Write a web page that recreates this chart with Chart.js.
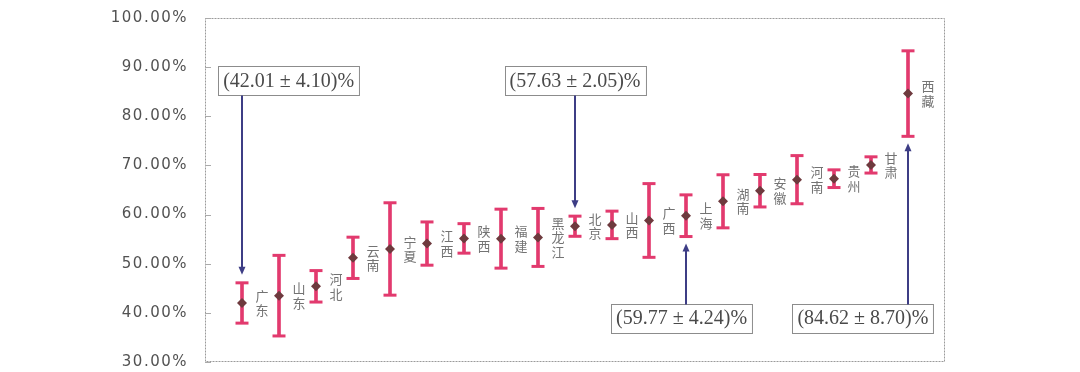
<!DOCTYPE html>
<html>
<head>
<meta charset="utf-8">
<script src="https://cdn.jsdelivr.net/npm/chart.js@4/dist/chart.umd.min.js"></script>
<style>
html,body{margin:0;padding:0;background:#fff}
#wrap{width:1080px;height:372px;position:relative}
</style>
</head>
<body>
<div id="wrap"><canvas id="chart"></canvas></div>
<script>
// provinces, left to right
var provinces = ['广东','山东','河北','云南','宁夏','江西','陕西','福建','黑龙江','北京','山西','广西','上海','湖南','安徽','河南','贵州','甘肃','西藏'];
// mean % (boxed ones are printed)
var means = [42.01, 43.5, 45.4, 51.2, 53.0, 54.1, 55.15, 55.1, 55.35, 57.63, 57.9, 58.8, 59.77, 62.7, 64.85, 67.1, 67.3, 70.1, 84.62];
// +/- spread
var sds = [4.10, 8.2, 3.2, 4.2, 9.4, 4.4, 3.0, 6.0, 5.9, 2.05, 2.8, 7.5, 4.24, 5.4, 3.3, 4.9, 1.8, 1.65, 8.70];
// y axis ticks
var yTicks = [30, 40, 50, 60, 70, 80, 90, 100];

var pink = '#e23a6e';
var brown = '#6e3a3e';
var navy = '#3d3d85';

var meanPts = means.map(function(m, i){ return {x: i, y: m}; });
var rangeBars = means.map(function(m, i){ return {x: i, y: [m - sds[i], m + sds[i]]}; });
var capPts = [];
means.forEach(function(m, i){
      capPts.push({x: i, y: m + sds[i]});
      capPts.push({x: i, y: m - sds[i]});
});

// which points get a boxed label, and where the box sits (x in index units, y in %)
var notes = [
      {i: 0,  bx: 1.26,  by: 87.3,  up: false},
      {i: 9,  bx: 9.0,   by: 87.3,  up: false},
      {i: 12, bx: 11.88, by: 38.95, up: true},
      {i: 18, bx: 16.78, by: 38.95, up: true}
];

var decor = {
      id: 'decor',
      beforeDraw: function(chart){
            chart.ctx.letterSpacing = '1.5px';
      },
      afterDraw: function(chart){
            var ctx = chart.ctx, a = chart.chartArea;
            var xs = chart.scales.x, ys = chart.scales.y;
            ctx.save();
            ctx.letterSpacing = '0px';

            // dotted frame
            ctx.strokeStyle = '#9a9a9a';
            ctx.lineWidth = 1;
            ctx.setLineDash([2, 1]);
            ctx.strokeRect(a.left + 0.5, a.top + 0.5, a.width - 1, a.height - 1);
            ctx.setLineDash([]);

            // small inner tick marks
            ctx.strokeStyle = '#aaaaaa';
            ys.ticks.forEach(function(t){
                  var py = Math.round(ys.getPixelForValue(t.value)) + 0.5;
                  ctx.beginPath();
                  ctx.moveTo(a.left, py);
                  ctx.lineTo(a.left + 6, py);
                  ctx.stroke();
            });

            // vertical province names next to each point
            var meta = chart.getDatasetMeta(0);
            ctx.font = '13px "Noto Sans CJK SC"';
            ctx.fillStyle = '#737373';
            ctx.textAlign = 'center';
            ctx.textBaseline = 'middle';
            meta.data.forEach(function(pt, i){
                  var chars = Array.from(provinces[i]);
                  chars.forEach(function(ch, k){
                        ctx.fillText(ch, pt.x + 20, pt.y + (k - (chars.length - 1) / 2) * 14.5);
                  });
            });

            // boxed values with arrows
            ctx.font = '20px "Liberation Serif"';
            notes.forEach(function(n){
                  var txt = '(' + means[n.i].toFixed(2) + ' ± ' + sds[n.i].toFixed(2) + ')%';
                  var w = ctx.measureText(txt).width + 10, h = 29;
                  var cx = xs.getPixelForValue(n.bx), cy = ys.getPixelForValue(n.by);
                  var bx = Math.round(cx - w / 2) + 0.5, by = Math.round(cy - h / 2) + 0.5;
                  ctx.fillStyle = '#fff';
                  ctx.fillRect(bx, by, w, h);
                  ctx.strokeStyle = '#8c8c8c';
                  ctx.lineWidth = 1;
                  ctx.strokeRect(bx, by, w, h);
                  ctx.fillStyle = '#4a4a4a';
                  ctx.fillText(txt, cx, cy + 1);

                  var ax = xs.getPixelForValue(n.i);
                  var y0, tip, dir;
                  if(n.up){
                        y0 = by;
                        tip = ys.getPixelForValue(means[n.i] - sds[n.i]) + 7;
                        dir = -1;
                  } else {
                        y0 = by + h;
                        tip = ys.getPixelForValue(means[n.i] + sds[n.i]) - 8;
                        dir = 1;
                  }
                  ctx.strokeStyle = navy;
                  ctx.lineWidth = 2;
                  ctx.beginPath();
                  ctx.moveTo(ax, y0);
                  ctx.lineTo(ax, tip - dir * 6);
                  ctx.stroke();
                  ctx.fillStyle = navy;
                  ctx.beginPath();
                  ctx.moveTo(ax, tip);
                  ctx.lineTo(ax - 3.5, tip - dir * 8);
                  ctx.lineTo(ax + 3.5, tip - dir * 8);
                  ctx.closePath();
                  ctx.fill();
            });
            ctx.restore();
      }
};

var chart = new Chart(document.getElementById('chart'), {
      type: 'scatter',
      data: {
            datasets: [
            {
                  type: 'scatter',
                  data: meanPts,
                  pointStyle: 'rectRot',
                  pointRadius: 5,
                  backgroundColor: brown,
                  borderColor: brown,
                  borderWidth: 0,
                  order: 0
            },
            {
                  type: 'scatter',
                  data: capPts,
                  pointStyle: 'line',
                  pointRadius: 6.5,
                  borderColor: pink,
                  borderWidth: 3,
                  order: 1
            },
            {
                  type: 'bar',
                  data: rangeBars,
                  backgroundColor: pink,
                  barThickness: 3,
                  order: 2
            }]
      },
      options: {
            responsive: true,
            maintainAspectRatio: false,
            animation: false,
            events: [],
            layout: {padding: {left: 0, top: 18, right: 135, bottom: 10}},
            plugins: {legend: {display: false}, tooltip: {enabled: false}},
            scales: {
                  x: {
                        type: 'linear',
                        min: -1,
                        max: provinces.length,
                        offset: false,
                        display: false
                  },
                  y: {
                        min: yTicks[0],
                        max: yTicks[yTicks.length - 1],
                        afterFit: function(scale){
                              scale.width = 205;
                              scale.paddingTop = 0;
                              scale.paddingBottom = 0;
                        },
                        border: {display: false},
                        grid: {display: false, drawTicks: false},
                        ticks: {
                              stepSize: yTicks[1] - yTicks[0],
                              padding: 17,
                              color: '#525252',
                              font: {family: 'DejaVu Sans', size: 15},
                              callback: function(v){ return v.toFixed(2) + '%'; }
                        }
                  }
            }
      },
      plugins: [decor]
});
</script>
</body>
</html>
